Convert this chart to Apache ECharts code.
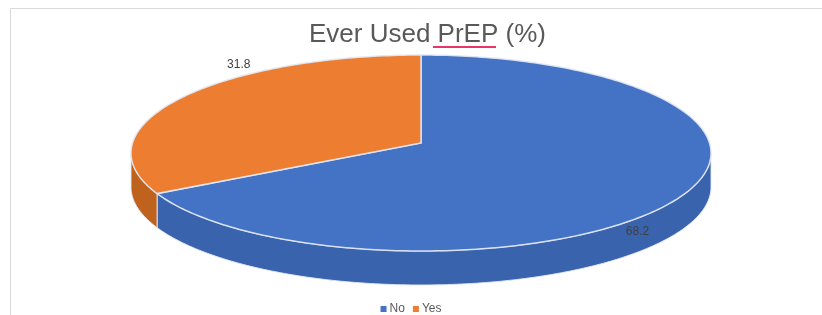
<!DOCTYPE html>
<html>
<head>
<meta charset="utf-8">
<script src="https://cdn.jsdelivr.net/npm/echarts@6/dist/echarts.min.js"></script>
<style>
  html, body { margin: 0; padding: 0; background: #fff; }
  #chart { width: 822px; height: 315px; }
</style>
</head>
<body>
<div id="chart"></div>
<script>
// data
const categories = ['No', 'Yes'];
const values = [68.2, 31.8];
const titleText = 'Ever Used PrEP (%)';

// look
const colors = ['#4472C4', '#ED7D31'];
const sideColors = ['#3A63AE', '#BF621E'];
const edgeColor = 'rgba(226,233,245,0.9)';

// 3d pie geometry (ellipse in px)
const geo = { cx: 421, cy: 153, rx: 290, ry: 98, depth: 34, apexShift: -10 };
// label placement: angle shift (deg) from slice middle, radius factor
const labelShift = [-14.5, -22.4];
const labelRadius = 1.1;

const chart = echarts.init(document.getElementById('chart'), null, { renderer: 'canvas' });

const total = values.reduce((s, v) => s + v, 0);

function pt(deg, dy) {
  const r = deg * Math.PI / 180;
  return [geo.cx + geo.rx * Math.cos(r), geo.cy - geo.ry * Math.sin(r) + (dy || 0)];
}

function renderSlice(params, api) {
  const i = params.dataIndex;
  let before = 0;
  for (let j = 0; j < i; j++) before += values[j];
  const a0 = 90 - before / total * 360;
  const a1 = a0 - api.value(0) / total * 360;

  // arc points, clockwise
  const arc = [];
  for (let a = a0; a > a1; a -= 1) arc.push(a);
  arc.push(a1);

  const children = [];

  // front wall: parts of the arc in the lower half
  let run = [];
  const runs = [];
  arc.forEach(a => {
    if (Math.sin(a * Math.PI / 180) <= 0.0001) {
      run.push(a);
    } else if (run.length) {
      runs.push(run); run = [];
    }
  });
  if (run.length) runs.push(run);
  runs.forEach(r => {
    const top = r.map(a => pt(a, 0));
    const bottom = r.map(a => pt(a, geo.depth)).reverse();
    children.push({
      type: 'polygon',
      shape: { points: top.concat(bottom) },
      style: { fill: sideColors[i], stroke: edgeColor, lineWidth: 1 }
    });
  });

  // top face
  const apex = [geo.cx, geo.cy + geo.apexShift];
  children.push({
    type: 'polygon',
    shape: { points: [apex].concat(arc.map(a => pt(a, 0))) },
    style: { fill: colors[i], stroke: edgeColor, lineWidth: 1.5 }
  });

  // value label
  const mid = (a0 + a1) / 2 + labelShift[i];
  const mr = mid * Math.PI / 180;
  children.push({
    type: 'text',
    z2: 100,
    style: {
      text: api.value(0).toFixed(1),
      x: geo.cx + geo.rx * labelRadius * Math.cos(mr),
      y: geo.cy - geo.ry * labelRadius * Math.sin(mr),
      align: 'center',
      verticalAlign: 'middle',
      fill: '#404040',
      font: '12px "Liberation Sans", Arial, sans-serif'
    }
  });

  return { type: 'group', children: children };
}

const option = {
  backgroundColor: '#ffffff',
  animation: false,
  color: colors,
  title: {
    text: titleText,
    left: 304,
    top: 17,
    textStyle: {
      fontFamily: '"Liberation Sans", Arial, sans-serif',
      fontSize: 26,
      fontWeight: 'normal',
      color: '#595959'
    }
  },
  legend: {
    data: categories,
    left: 'center',
    top: 298,
    icon: 'rect',
    itemWidth: 6,
    itemHeight: 6,
    itemGap: 8,
    textStyle: {
      fontFamily: '"Liberation Sans", Arial, sans-serif',
      fontSize: 12,
      color: '#595959',
      padding: [0, 0, 0, -2]
    }
  },
  graphic: [
    {
      type: 'rect',
      silent: true,
      shape: { x: 10.5, y: 8.5, width: 830, height: 330 },
      style: { fill: 'none', stroke: '#d9d9d9', lineWidth: 1 }
    },
    {
      // spell-check squiggle under "PrEP"
      type: 'line',
      silent: true,
      shape: { x1: 433, y1: 47, x2: 496, y2: 47 },
      style: { stroke: '#e8336b', lineWidth: 2 }
    }
  ],
  series: [
    {
      // invisible pie only feeds the legend
      type: 'pie',
      name: 'legend',
      radius: [0, 0],
      center: [geo.cx, geo.cy],
      silent: true,
      label: { show: false },
      labelLine: { show: false },
      data: categories.map((c, i) => ({ name: c, value: values[i] }))
    },
    {
      type: 'custom',
      name: 'Ever Used PrEP',
      coordinateSystem: 'none',
      renderItem: renderSlice,
      data: categories.map((c, i) => ({ name: c, value: values[i] }))
    }
  ]
};

chart.setOption(option);
</script>
</body>
</html>
